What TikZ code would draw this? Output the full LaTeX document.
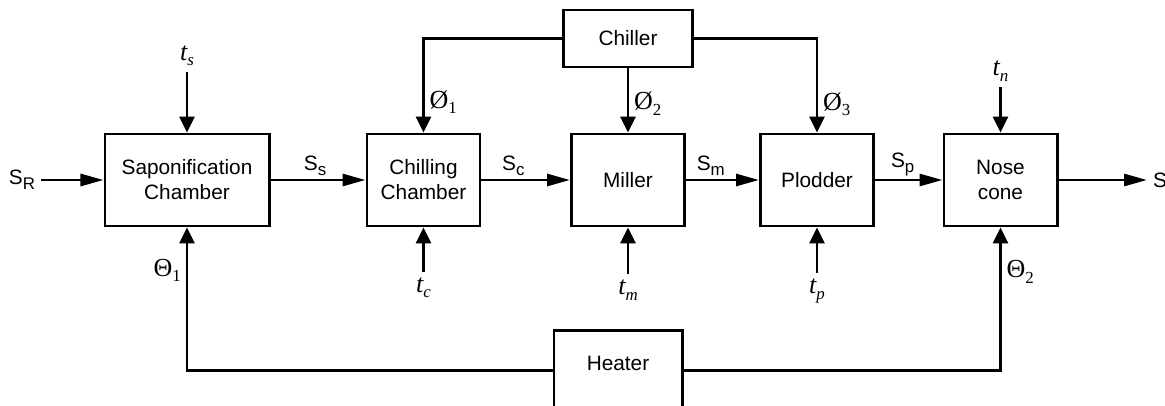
\documentclass[tikz,border=0pt]{standalone}
\usepackage{fontspec}
\setmainfont{Liberation Sans}
\newfontfamily\rmser{Liberation Serif}
\usetikzlibrary{arrows.meta}
\newcommand\lowsub[1]{\raisebox{-.45ex}{\fontsize{12}{12}\selectfont #1}}

\begin{document}
\begin{tikzpicture}[x=.025cm,y=-.025cm,line width=2.1pt,
  every node/.style={font=\fontsize{14.8}{17.7}\selectfont},
  block/.style={draw,align=center,minimum width=2.825cm,minimum height=2.3cm,inner sep=1pt},
  sig/.style={font=\rmser\fontsize{18.5}{18.5}\selectfont},
  hto/.style={-{Triangle[length=5.75mm,width=3mm]}},
  vto/.style={-{Triangle[length=4mm,width=3.75mm]}}]
  \useasboundingbox (0,0) rectangle (1165,406);
  \node[block,minimum width=4.1cm] (sap) at (187,180) {Saponification\\Chamber};
  \node[block] (chil) at (423.5,180) {Chilling\\Chamber};
  \node[block] (mill) at (628,180) {Miller};
  \node[block] (plod) at (817,180) {Plodder};
  \node[block] (nose) at (1000.5,180) {Nose\\cone};
  \node[block,minimum width=3.225cm,minimum height=1.425cm] (chiller) at (628,38.5) {Chiller};
  \node[draw,minimum width=3.2cm,inner sep=0pt,text height=1cm,text depth=1.3cm,anchor=north] (heater) at (618,329) {Heater};
  \node (sr) at (22,180) {S\lowsub{R}};
  \node[anchor=west] (sout) at (1147,180) {S};
  \node[sig] (ts) at (187,56) {\itshape t\lowsub{s}};
  \node[sig] (tn) at (1000.5,71) {\itshape t\lowsub{n}};
  \node[sig] (tc) at (423.5,288) {\itshape t\lowsub{c}};
  \node[sig] (tm) at (628,290) {\itshape t\lowsub{m}};
  \node[sig] (tp) at (817,291) {\itshape t\lowsub{p}};
  \draw[hto] (sr) -- (sap);
  \draw[hto] (sap) -- (chil) node[pos=.47,above,inner sep=2pt] (ss) {S\lowsub{s}};
  \draw[hto] (chil) -- (mill) node[pos=.36,above,inner sep=2pt] (sc) {S\lowsub{c}};
  \draw[hto] (mill) -- (plod) node[pos=.34,above,inner sep=2pt] (sm) {S\lowsub{m}};
  \draw[hto] (plod) -- (nose) node[pos=.41,above,inner sep=2pt] (sp) {S\lowsub{p}};
  \draw[hto] (nose) -- (sout);
  \draw[vto] (ts) -- (sap);
  \draw[vto] (tn) -- (nose);
  \draw[vto] (tc) -- (chil);
  \draw[vto] (tm) -- (mill);
  \draw[vto] (tp) -- (plod);
  \draw[vto] (chiller.west) -| (chil.north) node[sig,pos=.84,right] (f1) {Ø\lowsub{1}};
  \draw[vto] (chiller) -- (mill) node[sig,pos=.55,right] (f2) {Ø\lowsub{2}};
  \draw[vto] (chiller.east) -| (plod.north) node[sig,pos=.85,right] (f3) {Ø\lowsub{3}};
  \draw[vto] (heater.base west) -| (sap.south) node[sig,pos=.85,left] (h1) {Θ\lowsub{1}};
  \draw[vto] (heater.base east) -| (nose.south) node[sig,pos=.845,right] (h2) {Θ\lowsub{2}};
\end{tikzpicture}
\end{document}
